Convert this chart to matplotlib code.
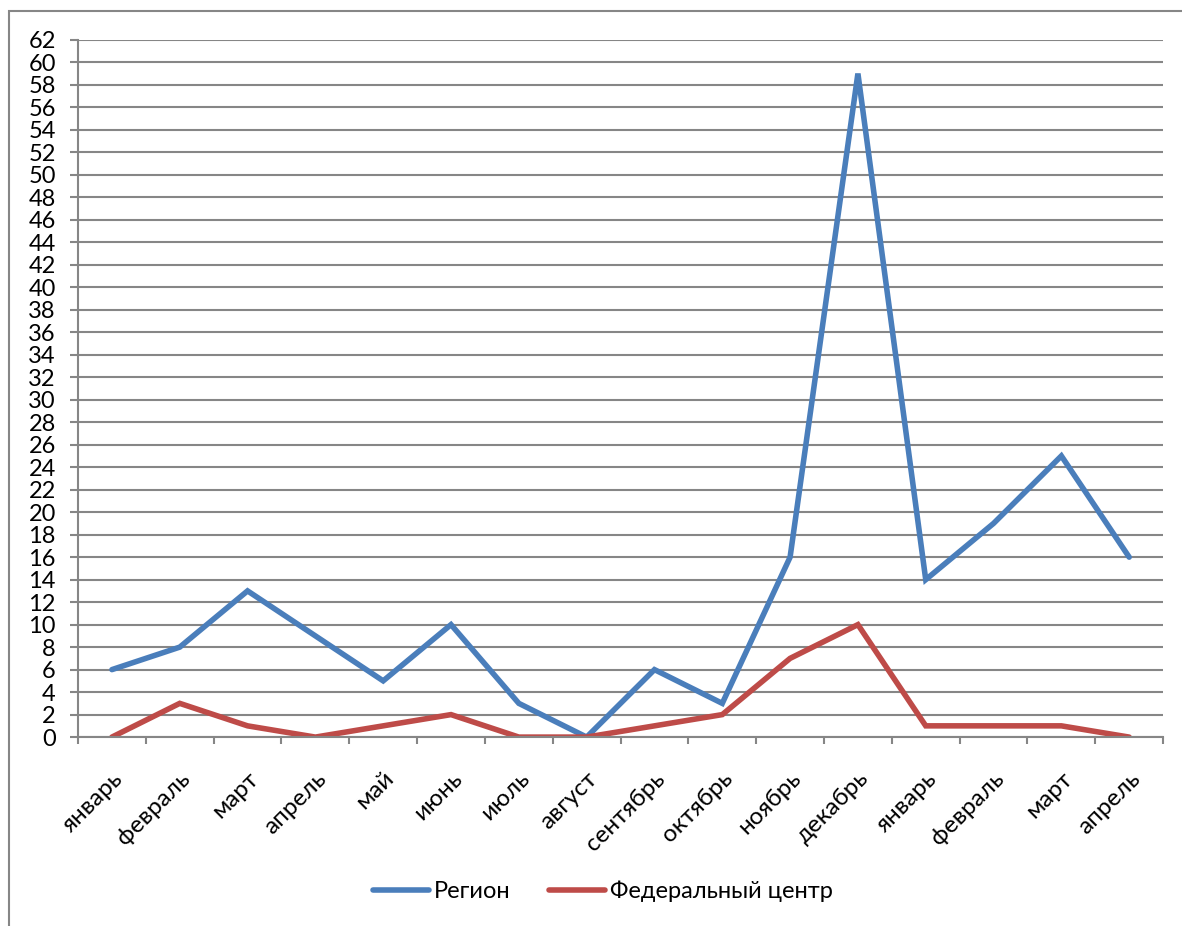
import numpy as np
import matplotlib.pyplot as plt
import matplotlib.transforms as mtransforms
from matplotlib.patches import Rectangle

plt.rcParams['font.family'] = ['Lato', 'DejaVu Sans']

months = ['январь', 'февраль', 'март', 'апрель', 'май', 'июнь', 'июль', 'август',
          'сентябрь', 'октябрь', 'ноябрь', 'декабрь', 'январь', 'февраль', 'март', 'апрель']
region = [6, 8, 13, 9, 5, 10, 3, 0, 6, 3, 16, 59, 14, 19, 25, 16]
federal = [0, 3, 1, 0, 1, 2, 0, 0, 1, 2, 7, 10, 1, 1, 1, 0]

fig = plt.figure(figsize=(11.82, 9.26), dpi=100)
ax = fig.add_axes([0.066, 0.204, 0.918, 0.753])

# outer chart frame
fig.patches.append(Rectangle((9/1182, -0.01), 1.0, 1 - 11/926 + 0.01, transform=fig.transFigure,
                             fill=False, edgecolor='#868686', lw=1.5))

x = np.arange(len(months))
ax.plot(x, region, color='#4A7EBB', lw=4, label='Регион', solid_capstyle='round', solid_joinstyle='miter')
ax.plot(x, federal, color='#BE4B48', lw=4, label='Федеральный центр', solid_capstyle='round', solid_joinstyle='miter')

ax.set_xlim(-0.5, len(months) - 0.5)
ax.set_ylim(0, 62)
ax.set_yticks(np.arange(0, 63, 2))
ax.yaxis.grid(True, color='#868686', lw=1.5)
ax.set_axisbelow(True)

ax.set_xticks(x)
ax.set_xticklabels(months, rotation=45, ha='right', rotation_mode='anchor', fontsize=17.5)
shift = mtransforms.ScaledTranslation(5/100, 0, fig.dpi_scale_trans)
for lab in ax.get_xticklabels():
    lab.set_transform(lab.get_transform() + shift)
ax.set_xticks(np.arange(-0.5, len(months)), minor=True)
ax.tick_params(axis='x', which='major', length=0, pad=22)
ax.tick_params(axis='x', which='minor', length=5, width=1.5, color='#868686')
ax.tick_params(axis='y', length=6, width=1.5, color='#868686', labelsize=17, pad=10)

for s in ['top', 'right']:
    ax.spines[s].set_visible(False)
for s in ['left', 'bottom']:
    ax.spines[s].set_color('#868686')
    ax.spines[s].set_linewidth(1.5)

fig.legend(loc='center', bbox_to_anchor=(0.51, 0.037), ncol=2, frameon=False, fontsize=17,
           handlelength=2.4, columnspacing=1.6, handletextpad=0.2)

fig.savefig('out.png', dpi=100)
